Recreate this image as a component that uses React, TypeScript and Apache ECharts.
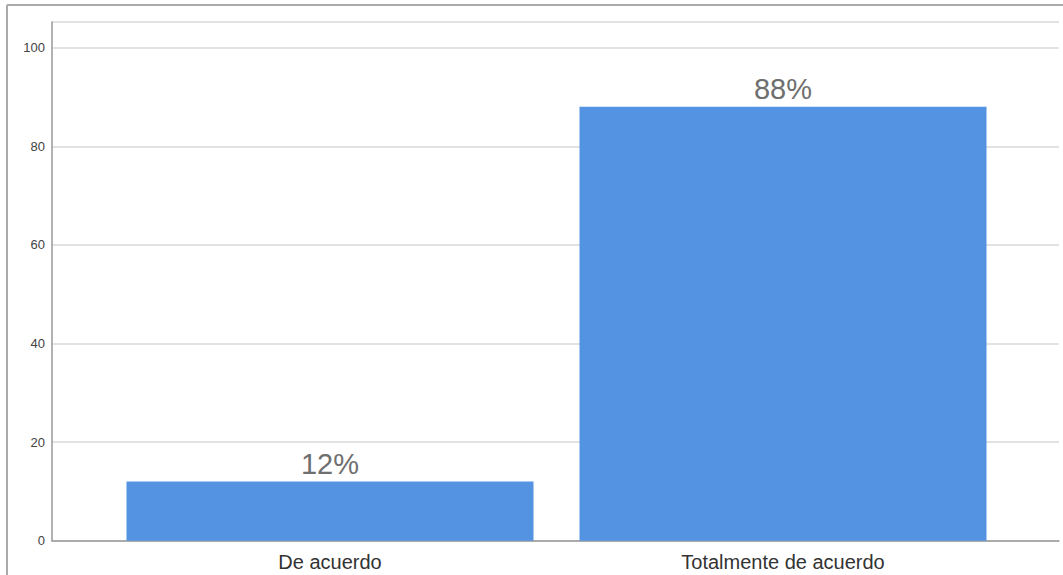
import React, { useEffect, useRef } from "react";
import * as echarts from "echarts";

const categories = ["De acuerdo", "Totalmente de acuerdo"];
const values = [12, 88];
const yTicks = [0, 20, 40, 60, 80, 100];

export default function App() {
  const ref = useRef<HTMLDivElement>(null);
  useEffect(() => {
    if (!ref.current) return;
    const chart = echarts.init(ref.current, null, { renderer: "svg" });
    const font = "'Liberation Sans', Arial, sans-serif";
    chart.setOption({
      animation: false,
      backgroundColor: "#ffffff",
      grid: [
        { left: 52, right: 4, top: 22, bottom: 34.3 },
        { left: 103.5, right: 53.5, top: 22, bottom: 34.3 },
      ],
      xAxis: [
        {
          type: "category",
          gridIndex: 0,
          data: categories,
          axisLine: { lineStyle: { color: "#999999", width: 1.5 } },
          axisTick: { show: false },
          axisLabel: { show: false },
        },
        {
          type: "category",
          gridIndex: 1,
          data: categories,
          axisLine: { show: false },
          axisTick: { show: false },
          axisLabel: {
            color: "#333333",
            fontSize: 20,
            fontFamily: font,
            margin: 11,
          },
        },
      ],
      yAxis: [
        {
          type: "value",
          gridIndex: 0,
          min: 0,
          max: 105.2,
          interval: 20,
          axisLine: { show: true, lineStyle: { color: "#999999", width: 1.5 } },
          axisTick: { show: false },
          axisLabel: {
            color: "#444444",
            fontSize: 13,
            fontFamily: font,
            margin: 7,
            customValues: yTicks,
          },
          splitLine: { lineStyle: { color: "#d9d9d9", width: 1.5 } },
        },
        {
          type: "value",
          gridIndex: 1,
          min: 0,
          max: 105.2,
          interval: 20,
          axisLine: { show: false },
          axisTick: { show: false },
          axisLabel: { show: false },
          splitLine: { show: false },
        },
      ],
      series: [
        {
          type: "bar",
          xAxisIndex: 1,
          yAxisIndex: 1,
          data: values,
          barWidth: 407,
          itemStyle: { color: "#5393E2" },
          label: {
            show: true,
            position: "top",
            distance: 3,
            formatter: "{c}%",
            color: "#6f6f6f",
            fontSize: 29,
            fontFamily: font,
          },
        },
      ],
      graphic: [
        {
          type: "line",
          shape: { x1: 7, y1: 5, x2: 1063, y2: 5 },
          style: { stroke: "#aaaaaa", lineWidth: 2 },
        },
        {
          type: "line",
          shape: { x1: 7, y1: 5, x2: 7, y2: 575 },
          style: { stroke: "#aaaaaa", lineWidth: 2 },
        },
      ],
    });
    return () => chart.dispose();
  }, []);
  return <div ref={ref} style={{ width: 1063, height: 575, position: "absolute", left: 0, top: 0 }} />;
}
